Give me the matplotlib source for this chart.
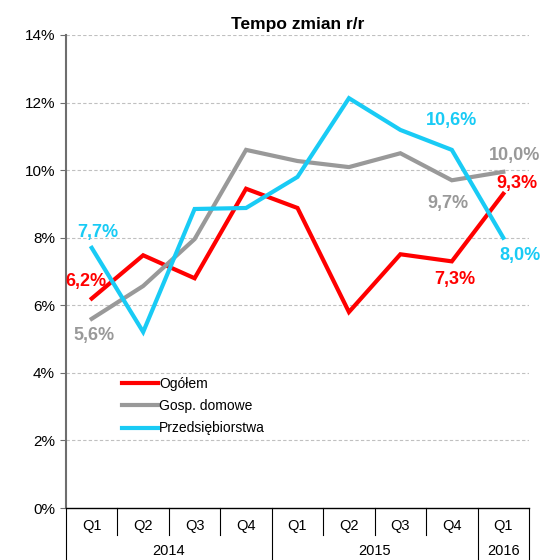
import matplotlib
matplotlib.use('Agg')
import matplotlib.pyplot as plt
import matplotlib.transforms as mtransforms

plt.rcParams['font.family'] = ['Liberation Sans', 'DejaVu Sans']

# Data
quarters = ['Q1', 'Q2', 'Q3', 'Q4', 'Q1', 'Q2', 'Q3', 'Q4', 'Q1']
years = ['2014', '2015', '2016']
year_len = [4, 4, 1]
ogolem = [6.2, 7.48, 6.8, 9.45, 8.88, 5.8, 7.51, 7.3, 9.3]
gosp = [5.6, 6.57, 7.96, 10.6, 10.27, 10.09, 10.5, 9.7, 9.95]
przeds = [7.7, 5.21, 8.85, 8.88, 9.8, 12.13, 11.19, 10.6, 8.0]
yticks = [0, 2, 4, 6, 8, 10, 12, 14]

RED = '#FF0000'
GRAY = '#999999'
CYAN = '#19CBF5'

fig = plt.figure(figsize=(5.55, 5.6), dpi=100)
ax = fig.add_axes([66/555, 1 - 508/560, 463/555, 473/560])

x = list(range(len(quarters)))
ax.plot(x, ogolem, color=RED, lw=3, label='Ogółem', solid_joinstyle='miter', zorder=3)
ax.plot(x, gosp, color=GRAY, lw=3, label='Gosp. domowe', solid_joinstyle='miter', zorder=3)
ax.plot(x, przeds, color=CYAN, lw=3, label='Przedsiębiorstwa', solid_joinstyle='miter', zorder=3)

ax.set_xlim(-0.5, len(quarters) - 0.5)
ax.set_ylim(0, 14)
ax.set_yticks(yticks)
ax.set_yticklabels(['%d%%' % v for v in yticks], fontsize=11)
ax.set_xticks([])
for v in yticks[1:]:
    ax.axhline(v, color='#C0C0C0', lw=0.8, ls=(0, (3, 2)), zorder=1)

for s in ['top', 'right']:
    ax.spines[s].set_visible(False)
ax.spines['left'].set_color('#6E6E6E')
ax.spines['left'].set_linewidth(1.5)
ax.spines['bottom'].set_color('black')
ax.spines['bottom'].set_linewidth(1.0)
ax.tick_params(axis='y', direction='out', length=4, color='#6E6E6E', pad=4)

ax.set_title('Tempo zmian r/r', fontsize=12.5, fontweight='bold', pad=4)

# Category table below the axis
tr = mtransforms.blended_transform_factory(ax.transData, ax.transAxes)
q_y = -(526 - 508) / 473
yr_y = -(551 - 508) / 473
short = -(535 - 508) / 473
longl = -(562 - 508) / 473
for i, q in enumerate(quarters):
    ax.text(i, q_y, q, transform=tr, ha='center', va='center', fontsize=10.5)
bounds = [-0.5]
pos = -0.5
for n in year_len:
    pos += n
    bounds.append(pos)
for i in range(len(quarters) + 1):
    xb = i - 0.5
    bottom = longl if xb in bounds else short
    ax.plot([xb, xb], [0, bottom], transform=tr, color='black', lw=0.8,
            clip_on=False)
start = -0.5
for yr, n in zip(years, year_len):
    ax.text(start + n / 2, yr_y, yr, transform=tr, ha='center', va='center',
            fontsize=10.5)
    start += n

# Data labels
labels = [
    (0, ogolem[0], '6,2%', RED, (-6, 17)),
    (0, przeds[0], '7,7%', CYAN, (6, 15)),
    (0, gosp[0], '5,6%', GRAY, (2, -17)),
    (7, przeds[7], '10,6%', CYAN, (0, 29)),
    (8, gosp[8], '10,0%', GRAY, (11, 16)),
    (8, ogolem[8], '9,3%', RED, (14, 10)),
    (7, gosp[7], '9,7%', GRAY, (-4, -23)),
    (7, ogolem[7], '7,3%', RED, (3, -18)),
    (8, przeds[8], '8,0%', CYAN, (17, -18)),
]
for xi, yi, txt, col, off in labels:
    ax.annotate(txt, (xi, yi), xytext=off, textcoords='offset pixels',
                ha='center', va='center', color=col, fontsize=13,
                fontweight='bold', zorder=4)

ax.legend(loc='upper left', bbox_to_anchor=(0.105, 0.292), frameon=False,
          fontsize=10, handlelength=2.6, handletextpad=0.1, labelspacing=0.6,
          borderpad=0)

fig.savefig('out.png', dpi=100)
